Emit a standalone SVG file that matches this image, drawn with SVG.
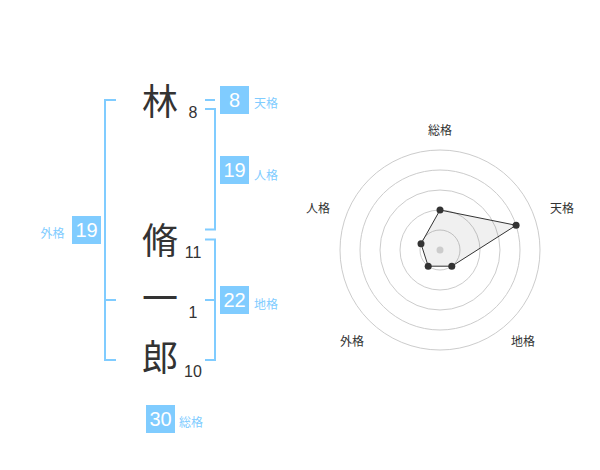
<svg xmlns="http://www.w3.org/2000/svg" width="600" height="470" viewBox="0 0 600 470">
<style>
.ch{font-family:"Noto Sans CJK JP","Noto Sans CJK SC",sans-serif;font-size:36px;fill:#333;text-anchor:middle}
.num{font-family:"Liberation Sans",Arial,sans-serif;font-size:16px;fill:#333;text-anchor:middle}
.box{fill:#80ccff}
.bt{font-family:"Liberation Sans",Arial,sans-serif;font-size:20px;fill:#fff;text-anchor:middle}
.bl{font-family:"Noto Sans CJK JP","Noto Sans CJK SC",sans-serif;font-size:12px;fill:#80ccff}
.br{fill:none;stroke:#80ccff;stroke-width:2}
.ring{fill:none;stroke:#cccccc;stroke-width:1}
.rl{font-family:"Noto Sans CJK JP","Noto Sans CJK SC",sans-serif;font-size:12px;fill:#333;text-anchor:middle}
.pt{fill:#333}
</style>
<rect width="600" height="470" fill="#fff"/>
<g id="connectors">
<path class="br" d="M116,100 H105 V360 H116 M105,300 H116"/>
<path class="br" d="M205,100 H215"/>
<path class="br" d="M205,109 H215 V229.5 H205"/>
<path class="br" d="M205,239.5 H215 V360 H205 M205,300 H215"/>
</g>
<g id="char-1"><text class="ch" x="160" y="115">林</text><text class="num" x="193" y="117.5">8</text></g>
<g id="char-2"><text class="ch" x="160" y="253.5">脩</text><text class="num" x="193" y="257.5">11</text></g>
<g id="char-3"><text class="ch" x="160" y="312">一</text><text class="num" x="193" y="318">1</text></g>
<g id="char-4"><text class="ch" x="160" y="371">郎</text><text class="num" x="193" y="377">10</text></g>
<g id="tenkaku"><rect class="box" x="220" y="86" width="29" height="28"/><text class="bt" x="234.5" y="107">8</text><text class="bl" x="254" y="108">天格</text></g>
<g id="jinkaku"><rect class="box" x="220" y="156" width="29" height="28"/><text class="bt" x="234.5" y="177">19</text><text class="bl" x="254" y="179.5">人格</text></g>
<g id="chikaku"><rect class="box" x="220" y="286" width="29" height="28"/><text class="bt" x="234.5" y="307">22</text><text class="bl" x="254" y="308.5">地格</text></g>
<g id="gaikaku"><rect class="box" x="72" y="216" width="29" height="28"/><text class="bt" x="86.5" y="237">19</text><text class="bl" x="40.5" y="238">外格</text></g>
<g id="soukaku"><rect class="box" x="146" y="405" width="29" height="28"/><text class="bt" x="160.5" y="426">30</text><text class="bl" x="179" y="427">総格</text></g>
<g id="radar">
<circle class="ring" cx="440" cy="250" r="20"/>
<circle class="ring" cx="440" cy="250" r="40"/>
<circle class="ring" cx="440" cy="250" r="60"/>
<circle class="ring" cx="440" cy="250" r="80"/>
<circle class="ring" cx="440" cy="250" r="100"/>
<polygon points="440,210 516.1,225.3 451.8,266.2 428.2,266.2 421,243.8" fill="#000" fill-opacity="0.06" stroke="#333" stroke-width="1"/>
<circle cx="440" cy="250" r="3.5" fill="#cccccc"/>
<circle class="pt" cx="440" cy="210" r="3.5"/>
<circle class="pt" cx="516.1" cy="225.3" r="3.5"/>
<circle class="pt" cx="451.8" cy="266.2" r="3.5"/>
<circle class="pt" cx="428.2" cy="266.2" r="3.5"/>
<circle class="pt" cx="421" cy="243.8" r="3.5"/>
<text class="rl" x="440" y="135">総格</text>
<text class="rl" x="562" y="212.5">天格</text>
<text class="rl" x="318" y="212.5">人格</text>
<text class="rl" x="352" y="346">外格</text>
<text class="rl" x="523" y="346">地格</text>
</g>
</svg>
